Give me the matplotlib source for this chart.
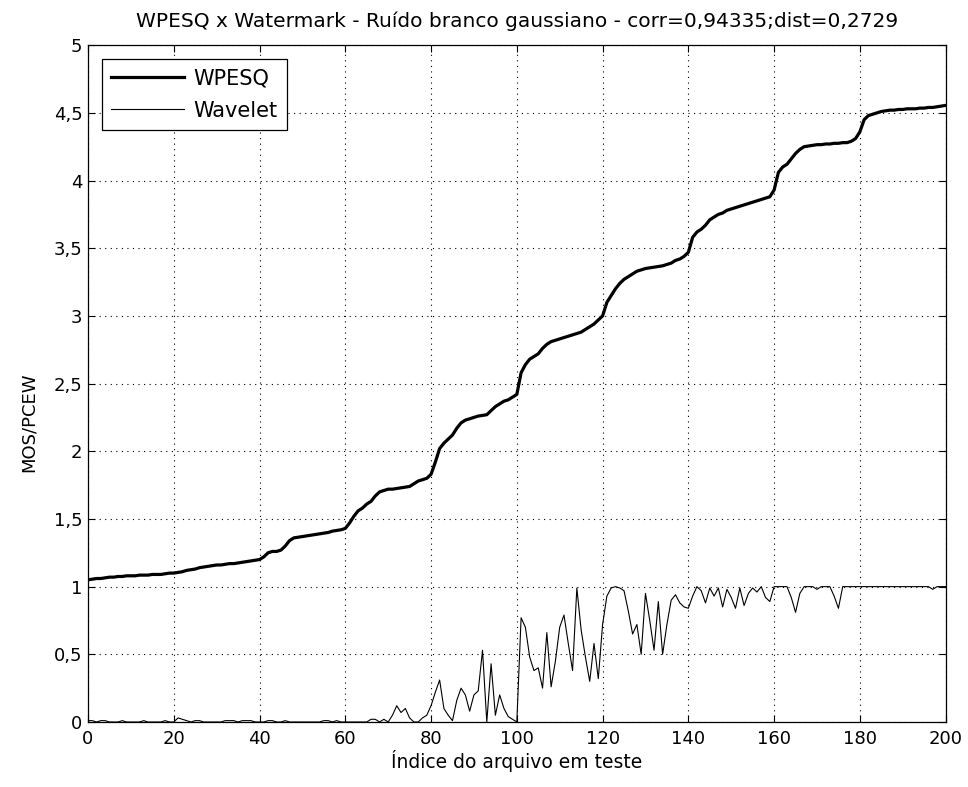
import numpy as np
import matplotlib
matplotlib.use("Agg")
import matplotlib.pyplot as plt
from matplotlib.ticker import FuncFormatter

# sorted WPESQ scores, one per test file (index 0..200)
wpesq = [
    1.05, 1.055, 1.06, 1.06, 1.065, 1.07, 1.07, 1.075, 1.075, 1.08,
    1.08, 1.08, 1.085, 1.085, 1.085, 1.09, 1.09, 1.09, 1.095, 1.10,
    1.10, 1.105, 1.11, 1.12, 1.125, 1.13, 1.14, 1.145, 1.15, 1.155,
    1.16, 1.16, 1.165, 1.17, 1.17, 1.175, 1.18, 1.185, 1.19, 1.195,
    1.20, 1.22, 1.25, 1.26, 1.26, 1.27, 1.30, 1.34, 1.36, 1.365,
    1.37, 1.375, 1.38, 1.385, 1.39, 1.395, 1.40, 1.41, 1.415, 1.42,
    1.43, 1.47, 1.52, 1.56, 1.58, 1.61, 1.63, 1.67, 1.70, 1.71,
    1.72, 1.72, 1.725, 1.73, 1.735, 1.74, 1.76, 1.78, 1.79, 1.80,
    1.83, 1.92, 2.02, 2.06, 2.09, 2.12, 2.17, 2.21, 2.23, 2.24,
    2.25, 2.26, 2.265, 2.27, 2.30, 2.33, 2.35, 2.37, 2.38, 2.40,
    2.42, 2.58, 2.64, 2.68, 2.70, 2.72, 2.76, 2.79, 2.81, 2.82,
    2.83, 2.84, 2.85, 2.86, 2.87, 2.88, 2.90, 2.92, 2.94, 2.97,
    3.00, 3.10, 3.15, 3.20, 3.24, 3.27, 3.29, 3.31, 3.33, 3.34,
    3.35, 3.355, 3.36, 3.365, 3.37, 3.38, 3.39, 3.41, 3.42, 3.44,
    3.47, 3.58, 3.62, 3.64, 3.67, 3.71, 3.73, 3.75, 3.76, 3.78,
    3.79, 3.80, 3.81, 3.82, 3.83, 3.84, 3.85, 3.86, 3.87, 3.88,
    3.93, 4.06, 4.10, 4.12, 4.16, 4.20, 4.23, 4.25, 4.255, 4.26,
    4.265, 4.265, 4.27, 4.27, 4.275, 4.275, 4.28, 4.28, 4.29, 4.31,
    4.36, 4.45, 4.48, 4.49, 4.50, 4.51, 4.515, 4.52, 4.52, 4.525,
    4.525, 4.53, 4.53, 4.53, 4.535, 4.535, 4.54, 4.54, 4.545, 4.55,
    4.555,
]

# wavelet (PCEW) score for the same files
wavelet = [
    0.01, 0.01, 0.0, 0.01, 0.01, 0.0, 0.0, 0.0, 0.01, 0.0,
    0.0, 0.0, 0.0, 0.01, 0.0, 0.0, 0.0, 0.0, 0.01, 0.0,
    0.0, 0.03, 0.02, 0.01, 0.0, 0.01, 0.01, 0.0, 0.0, 0.0,
    0.0, 0.0, 0.01, 0.01, 0.01, 0.0, 0.01, 0.01, 0.01, 0.0,
    0.0, 0.0, 0.01, 0.01, 0.0, 0.0, 0.01, 0.0, 0.0, 0.0,
    0.0, 0.0, 0.0, 0.0, 0.0, 0.01, 0.01, 0.0, 0.01, 0.0,
    0.0, 0.0, 0.0, 0.0, 0.0, 0.0, 0.02, 0.02, 0.0, 0.02,
    0.0, 0.05, 0.12, 0.07, 0.10, 0.03, 0.0, 0.0, 0.03, 0.05,
    0.12, 0.22, 0.31, 0.10, 0.05, 0.01, 0.16, 0.25, 0.20, 0.08,
    0.20, 0.23, 0.53, 0.0, 0.43, 0.05, 0.20, 0.10, 0.04, 0.02,
    0.0, 0.77, 0.70, 0.48, 0.38, 0.40, 0.25, 0.66, 0.26, 0.45,
    0.70, 0.79, 0.58, 0.38, 0.99, 0.68, 0.48, 0.30, 0.58, 0.32,
    0.72, 0.93, 0.99, 1.0, 0.99, 0.97, 0.82, 0.65, 0.72, 0.50,
    0.95, 0.75, 0.53, 0.89, 0.50, 0.72, 0.90, 0.94, 0.88, 0.85,
    0.84, 0.93, 1.0, 0.97, 0.88, 0.99, 0.93, 0.99, 0.85, 0.98,
    0.92, 0.84, 0.99, 0.86, 0.95, 0.99, 0.96, 1.0, 0.92, 0.89,
    1.0, 1.0, 1.0, 1.0, 0.92, 0.81, 0.95, 1.0, 1.0, 1.0,
    0.98, 1.0, 1.0, 1.0, 0.93, 0.84, 1.0, 1.0, 1.0, 1.0,
    1.0, 1.0, 1.0, 1.0, 1.0, 1.0, 1.0, 1.0, 1.0, 1.0,
    1.0, 1.0, 1.0, 1.0, 1.0, 1.0, 1.0, 0.98, 1.0, 1.0,
    1.0,
]

x_ticks = [0, 20, 40, 60, 80, 100, 120, 140, 160, 180, 200]
y_ticks = [0, 0.5, 1, 1.5, 2, 2.5, 3, 3.5, 4, 4.5, 5]

plt.rcParams['font.family'] = ['DejaVu Sans']

fig = plt.figure(figsize=(9.68, 7.87), dpi=100)
ax = fig.add_axes([0.0909, 0.0826, 0.886, 0.860])

idx = np.arange(len(wpesq))
ax.plot(idx, wpesq, color='black', linewidth=2.3, label='WPESQ')
ax.plot(idx, wavelet, color='black', linewidth=0.8, label='Wavelet')

ax.set_xlim(0, 200)
ax.set_ylim(0, 5)
ax.set_xticks(x_ticks)
ax.set_yticks(y_ticks)

# comma decimal separator, as in the original
comma = FuncFormatter(lambda v, p: ('%g' % v).replace('.', ','))
ax.yaxis.set_major_formatter(comma)

ax.grid(True, color='black', linestyle=(0, (1, 4)), linewidth=0.8)
ax.tick_params(direction='in', top=True, right=True, length=5,
               labelsize=13, width=0.8)
ax.tick_params(axis='x', pad=6)
ax.tick_params(axis='y', pad=4)
for s in ax.spines.values():
    s.set_linewidth(0.9)

ax.set_title('WPESQ x Watermark - Ruído branco gaussiano - corr=0,94335;dist=0,2729',
             fontsize=14.5, pad=13)
ax.set_xlabel('Índice do arquivo em teste', fontsize=13.5, labelpad=1)
ax.set_ylabel('MOS/PCEW', fontsize=13)
ax.yaxis.set_label_coords(-0.058, 0.443)

leg = ax.legend(loc='upper left', fontsize=15, handlelength=3.5,
                handletextpad=0.45, borderaxespad=0.65, fancybox=False,
                framealpha=1, edgecolor='black', borderpad=0.45,
                labelspacing=0.6)
leg.get_frame().set_linewidth(0.9)

fig.savefig('out.png', dpi=100)
